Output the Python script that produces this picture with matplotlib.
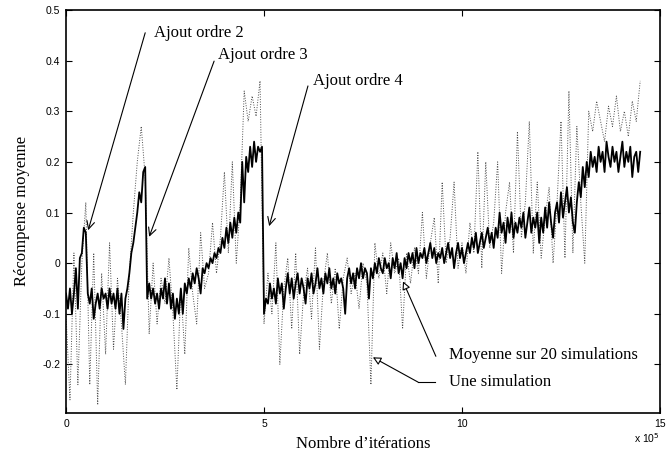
import numpy as np
import matplotlib
matplotlib.use('Agg')
import matplotlib.pyplot as plt

# ── mean reward over 20 runs, sampled every 0.05 x 10^5 iterations ──
STEP_MEAN = 0.05
mean_order1 = [-0.06, -0.09, -0.05, -0.10, -0.06, -0.01, -0.09, 0.01, 0.02, 0.07, 0.06]
mean_order2 = [-0.06, -0.08, -0.05, -0.11, -0.08, -0.06, -0.09, -0.05, -0.07, -0.06,
               -0.09, -0.05, -0.08, -0.06, -0.09, -0.05, -0.10, -0.06, -0.13, -0.07,
               -0.05, -0.02, 0.02, 0.04, 0.07, 0.10, 0.14, 0.12, 0.18, 0.19]
mean_order3 = [-0.07, -0.04, -0.07, -0.05, -0.08, -0.06, -0.09, -0.05, -0.07, -0.03,
               -0.08, -0.04, -0.09, -0.06, -0.11, -0.07, -0.10, -0.05, -0.10, -0.04,
               -0.06, -0.03, -0.05, -0.02, -0.04, -0.01, -0.03, -0.06, -0.01, -0.02,
               0.00, -0.01, 0.01, 0.00, 0.02, 0.01, 0.03, 0.02, 0.05, 0.03,
               0.07, 0.04, 0.08, 0.05, 0.09, 0.06, 0.10, 0.08, 0.20, 0.12,
               0.21, 0.18, 0.23, 0.19, 0.24, 0.20, 0.23, 0.22, 0.23]
mean_order4 = [-0.10, -0.07, -0.08, -0.04, -0.07, -0.05, -0.08, -0.03, -0.06, -0.04,
               -0.09, -0.05, -0.02, -0.06, -0.03, -0.07, -0.04, -0.02, -0.06, -0.03,
               -0.05, -0.08, -0.03, -0.05, -0.02, -0.06, -0.04, -0.01, -0.05, -0.03,
               -0.06, -0.02, -0.04, -0.01, -0.05, -0.03, -0.06, -0.02, -0.04, -0.03,
               -0.05, -0.10, -0.03, -0.01, -0.04, -0.02, -0.05, -0.01, -0.03, 0.00,
               -0.03, -0.01, -0.02, -0.07, -0.01, -0.03, 0.00, -0.02, 0.01, -0.01,
               -0.02, 0.01, -0.01, 0.00, -0.03, 0.01, -0.01, 0.02, -0.02, 0.00,
               -0.03, 0.01, -0.01, 0.02, 0.00, 0.02, -0.01, 0.03, 0.00, 0.02,
               0.01, 0.03, 0.00, 0.02, 0.04, 0.01, 0.03, 0.00, 0.02, 0.01,
               0.03, 0.00, 0.02, 0.04, 0.01, 0.03, -0.01, 0.02, 0.04, 0.01,
               0.03, 0.00, 0.02, 0.04, 0.02, 0.05, 0.03, 0.06, 0.02, 0.04,
               0.06, 0.03, 0.05, 0.07, 0.04, 0.06, 0.03, 0.07, 0.05, 0.10,
               0.06, 0.08, 0.04, 0.09, 0.06, 0.10, 0.05, 0.08, 0.06, 0.09,
               0.07, 0.10, 0.05, 0.08, 0.11, 0.06, 0.09, 0.07, 0.10, 0.04,
               0.09, 0.06, 0.11, 0.07, 0.12, 0.08, 0.05, 0.10, 0.12, 0.08,
               0.14, 0.09, 0.12, 0.15, 0.10, 0.13, 0.08, 0.06, 0.12, 0.16,
               0.13, 0.19, 0.15, 0.20, 0.17, 0.22, 0.19, 0.21, 0.18, 0.23,
               0.20, 0.22, 0.18, 0.24, 0.21, 0.19, 0.23, 0.20, 0.22, 0.18,
               0.21, 0.24, 0.19, 0.22, 0.20, 0.23, 0.17, 0.21, 0.22, 0.18,
               0.22]

# ── one single run, sampled every 0.1 x 10^5 iterations ──
STEP_SINGLE = 0.1
single_order12 = [-0.10, -0.27, 0.02, -0.24, 0.00, 0.12, -0.24, 0.02, -0.28, -0.02,
                  -0.18, 0.04, -0.17, -0.03, -0.12, -0.24, -0.02, 0.10, 0.20, 0.27,
                  0.17]
single_order3 = [-0.14, 0.00, -0.12, -0.03, -0.08, 0.01, -0.10, -0.25, -0.05, -0.18,
                 0.03, -0.06, -0.12, 0.06, -0.05, -0.02, 0.08, -0.02, 0.05, 0.18,
                 0.02, 0.20, 0.00, 0.12, 0.34, 0.28, 0.33, 0.29, 0.36]
single_order4 = [-0.12, -0.02, -0.10, 0.04, -0.20, -0.05, 0.01, -0.13, 0.02, -0.18,
                 -0.06, -0.01, -0.11, 0.03, -0.17, -0.04, 0.02, -0.08, -0.01, -0.13,
                 -0.03, 0.01, -0.06, -0.02, -0.09, 0.00, -0.04, -0.24, 0.04, -0.03,
                 0.02, -0.06, 0.04, -0.02, 0.01, -0.13, 0.02, -0.04, 0.03, -0.02,
                 0.10, -0.03, 0.04, 0.09, -0.04, 0.16, 0.00, 0.05, 0.16, -0.01,
                 0.04, -0.02, 0.08, 0.02, 0.22, -0.01, 0.20, 0.03, 0.08, 0.20,
                 -0.02, 0.10, 0.16, 0.02, 0.26, 0.05, 0.12, 0.28, 0.02, 0.16,
                 0.01, 0.09, 0.15, 0.00, 0.12, 0.28, 0.01, 0.34, 0.02, 0.27,
                 0.12, 0.00, 0.30, 0.26, 0.32, 0.28, 0.24, 0.31, 0.27, 0.33,
                 0.26, 0.30, 0.25, 0.32, 0.28, 0.36]

x_ticks = [0, 5, 10, 15]
y_ticks = [-0.2, -0.1, 0, 0.1, 0.2, 0.3, 0.4, 0.5]

SERIF = 'Liberation Serif'
SANS = 'Liberation Sans'

mean = np.array(mean_order1 + mean_order2 + mean_order3 + mean_order4)
single = np.array(single_order12 + single_order3 + single_order4)
x_mean = np.arange(len(mean)) * STEP_MEAN
x_single = np.arange(len(single)) * STEP_SINGLE

fig = plt.figure(figsize=(6.68, 4.57), dpi=100)
ax = fig.add_axes([66/668, 1 - 413/457, 594/668, 403/457])

ax.plot(x_single, single, color='0.3', lw=0.7, ls=(0, (1, 1.6)))
ax.plot(x_mean, mean, color='black', lw=1.3)

ax.set_xlim(0, 15)
ax.set_ylim(-0.296, 0.5)
ax.set_xticks(x_ticks)
ax.set_xticklabels([str(t) for t in x_ticks])
ax.set_yticks(y_ticks)
ax.set_yticklabels(['0' if t == 0 else f'{t:g}' for t in y_ticks])
ax.tick_params(direction='in', length=4, width=0.8, top=True, right=True,
               labelsize=7.5, pad=4)
for lab in ax.get_xticklabels() + ax.get_yticklabels():
    lab.set_family(SANS)
for s in ax.spines.values():
    s.set_linewidth(1.2)

ax.text(15, -0.345, r'x 10$^5$', ha='right', va='center', fontsize=7.5,
        family=SANS)

fig.text(363/668, 1 - 444/457, 'Nombre d\u2019itérations', ha='center',
         va='center', fontsize=12, family=SERIF)
fig.text(22/668, 1 - 211/457, 'Récompense moyenne', ha='center', va='center',
         rotation=90, fontsize=12, family=SERIF)

# ── annotations ──
ap = dict(arrowstyle='->', lw=0.8, color='black', shrinkA=0, shrinkB=0,
          mutation_scale=14)
ax.annotate('', xy=(0.56, 0.065), xytext=(2.0, 0.455), arrowprops=ap)
ax.text(2.22, 0.455, 'Ajout ordre 2', va='center', fontsize=12, family=SERIF)
ax.annotate('', xy=(2.10, 0.052), xytext=(3.74, 0.399), arrowprops=ap)
ax.text(3.84, 0.411, 'Ajout ordre 3', va='center', fontsize=12, family=SERIF)
ax.annotate('', xy=(5.13, 0.073), xytext=(6.11, 0.35), arrowprops=ap)
ax.text(6.24, 0.36, 'Ajout ordre 4', va='center', fontsize=12, family=SERIF)

ap2 = dict(arrowstyle='-|>', lw=0.8, color='black', fc='white', shrinkA=0,
           shrinkB=0, mutation_scale=12)
ax.annotate('', xy=(8.51, -0.036), xytext=(9.34, -0.184), arrowprops=ap2)
ax.text(9.67, -0.182, 'Moyenne sur 20 simulations', va='center', fontsize=12,
        family=SERIF)
ax.plot([9.32, 8.89], [-0.235, -0.235], color='black', lw=0.8)
ax.annotate('', xy=(7.75, -0.186), xytext=(8.89, -0.235), arrowprops=ap2)
ax.text(9.67, -0.235, 'Une simulation', va='center', fontsize=12,
        family=SERIF)

fig.savefig('out.png', dpi=100)
